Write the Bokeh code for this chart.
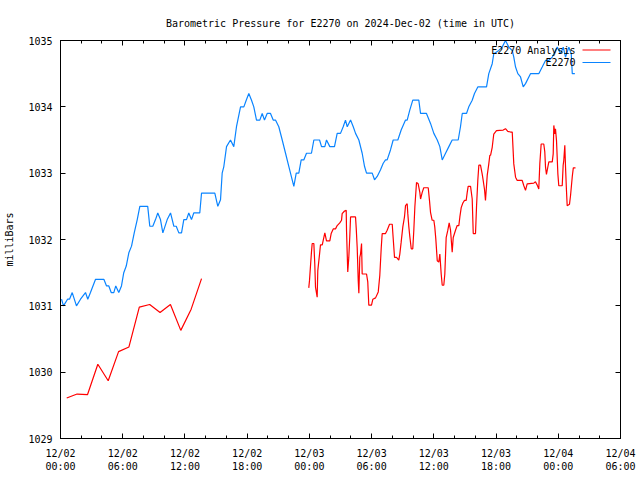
import math
from bokeh.plotting import figure
from bokeh.models import FixedTicker, LinearAxis, Range1d, Label, BoxAnnotation
from bokeh.embed import file_html
from bokeh.resources import INLINE

title_text = "Barometric Pressure for E2270 on 2024-Dec-02 (time in UTC)"
y_label = "milliBars"
series_names = ["E2270 Analysis", "E2270"]
series_colors = ["#ff0000", "#0a84ff"]

# x axis: hours since 2024-12-02 00:00 UTC
tick_hours = [0, 6, 12, 18, 24, 30, 36, 42, 48, 54]
tick_labels = ["12/02\n00:00", "12/02\n06:00", "12/02\n12:00", "12/02\n18:00",
               "12/03\n00:00", "12/03\n06:00", "12/03\n12:00", "12/03\n18:00",
               "12/04\n00:00", "12/04\n06:00"]
minor_hours = list(range(0, 55, 2))
y_ticks = [1029, 1030, 1031, 1032, 1033, 1034, 1035]

# observed E2270 (hours, mb)
obs_hours = [0.10, 0.29, 0.68, 0.87, 1.13, 1.54, 1.93, 2.41, 2.63, 2.89, 3.38, 4.18, 4.44, 4.66,
             4.89, 5.14, 5.33, 5.62, 5.88, 6.10, 6.34, 6.59, 6.85, 7.11, 7.40, 7.65, 8.41, 8.61,
             8.90, 9.16, 9.38, 9.64, 9.87, 10.29, 10.61, 10.93, 11.16, 11.41, 11.67, 11.89, 12.15,
             12.37, 12.63, 12.85, 13.43, 13.60, 14.88, 15.17, 15.43, 15.59, 15.75, 16.01, 16.39,
             16.71, 16.97, 17.36, 17.68, 17.91, 18.16, 18.42, 18.64, 18.90, 19.22, 19.45, 19.67,
             19.93, 20.25, 20.51, 20.73, 21.05, 21.38, 21.70, 22.02, 22.50, 22.73, 22.98, 23.21,
             23.46, 23.72, 24.20, 24.43, 24.98, 25.17, 25.49, 25.65, 25.97, 26.42, 26.68, 27.00,
             27.26, 27.48, 27.65, 27.97, 28.23, 28.45, 28.77, 29.09, 29.32, 29.51, 30.06, 30.28,
             30.54, 30.86, 31.12, 31.34, 31.50, 31.82, 32.08, 32.53, 32.85, 33.27, 33.43, 33.68,
             33.97, 34.55, 34.72, 35.29, 35.68, 36.00, 36.33, 36.58, 36.81, 37.13, 37.45, 37.77,
             38.35, 38.57, 38.74, 39.15, 39.37, 39.70, 39.92, 40.24, 41.08, 41.30, 41.63, 41.78,
             42.27, 42.59, 42.91, 43.23, 43.56, 43.71, 43.88, 44.10, 44.36, 44.62, 44.84, 45.32,
             46.12, 46.45, 46.77, 47.09, 47.42, 47.90, 48.22, 48.48, 48.70, 49.02, 49.25, 49.35,
             49.60]
obs_mb = [1031.1, 1031.0, 1031.1, 1031.1, 1031.2, 1031.0, 1031.1, 1031.2, 1031.1, 1031.2, 1031.4,
          1031.4, 1031.3, 1031.3, 1031.2, 1031.2, 1031.3, 1031.2, 1031.3, 1031.5, 1031.6, 1031.8,
          1031.9, 1032.1, 1032.3, 1032.5, 1032.5, 1032.2, 1032.2, 1032.3, 1032.4, 1032.3, 1032.1,
          1032.3, 1032.4, 1032.2, 1032.2, 1032.1, 1032.1, 1032.3, 1032.3, 1032.4, 1032.3, 1032.4,
          1032.4, 1032.7, 1032.7, 1032.5, 1032.6, 1033.0, 1033.1, 1033.4, 1033.5, 1033.4, 1033.7,
          1034.0, 1034.0, 1034.1, 1034.2, 1034.1, 1034.0, 1033.8, 1033.8, 1033.9, 1033.8, 1033.9,
          1033.9, 1033.8, 1033.8, 1033.7, 1033.5, 1033.3, 1033.1, 1032.8, 1033.0, 1033.0, 1033.2,
          1033.2, 1033.3, 1033.3, 1033.5, 1033.5, 1033.4, 1033.4, 1033.5, 1033.4, 1033.4, 1033.6,
          1033.6, 1033.7, 1033.8, 1033.7, 1033.8, 1033.7, 1033.6, 1033.5, 1033.3, 1033.1, 1033.0,
          1033.0, 1032.9, 1032.95, 1033.05, 1033.15, 1033.2, 1033.2, 1033.35, 1033.5, 1033.5,
          1033.65, 1033.8, 1033.8, 1033.95, 1034.1, 1034.1, 1033.9, 1033.9, 1033.75, 1033.6,
          1033.5, 1033.4, 1033.2, 1033.3, 1033.4, 1033.5, 1033.5, 1033.7, 1033.9, 1033.9, 1034.0,
          1034.1, 1034.2, 1034.3, 1034.3, 1034.5, 1034.65, 1034.8, 1034.85, 1034.9, 1035.0,
          1034.9, 1034.85, 1034.75, 1034.6, 1034.5, 1034.45, 1034.3, 1034.35, 1034.5, 1034.5,
          1034.6, 1034.7, 1034.7, 1034.75, 1034.9, 1034.8, 1034.9, 1034.75, 1034.9, 1034.8,
          1034.5, 1034.5]

# analysis, first run (hours, mb)
ana1_hours = [0.6, 1.6, 2.6, 3.6, 4.6, 5.6, 6.6, 7.6, 8.6, 9.6, 10.6, 11.6, 12.6, 13.6]
ana1_mb = [1029.61, 1029.67, 1029.66, 1030.12, 1029.87, 1030.31, 1030.38, 1030.98, 1031.02,
           1030.90, 1031.02, 1030.63, 1030.95, 1031.41]

# analysis, second run (hours, mb)
ana2_hours = [23.94, 24.01, 24.11, 24.20, 24.27, 24.43, 24.52, 24.59, 24.75, 24.81, 24.98, 25.07,
              25.24, 25.39, 25.49, 25.65, 25.97, 26.10, 26.30, 26.52, 26.68, 26.93, 27.10, 27.16,
              27.39, 27.55, 27.58, 27.70, 27.80, 27.90, 27.97, 28.45, 28.52, 28.61, 28.71, 28.77,
              28.86, 28.93, 29.03, 29.09, 29.51, 29.63, 29.73, 29.99, 30.12, 30.38, 30.64, 30.79,
              30.93, 31.02, 31.34, 31.50, 31.73, 31.99, 32.04, 32.21, 32.40, 32.62, 32.72, 32.85,
              33.01, 33.17, 33.27, 33.43, 33.49, 33.59, 33.68, 33.82, 33.97, 34.07, 34.17, 34.33,
              34.49, 34.65, 34.72, 34.88, 35.03, 35.46, 35.58, 35.68, 35.84, 36.00, 36.09, 36.19,
              36.33, 36.48, 36.58, 36.71, 36.81, 36.96, 37.06, 37.19, 37.35, 37.48, 37.61, 37.77,
              37.87, 38.09, 38.25, 38.41, 38.51, 38.64, 38.80, 38.96, 39.12, 39.22, 39.31, 39.54,
              39.70, 39.80, 40.02, 40.12, 40.24, 40.34, 40.50, 40.66, 40.76, 40.89, 40.98, 41.15,
              41.30, 41.40, 41.47, 41.63, 41.78, 42.04, 42.69, 42.91, 43.13, 43.39, 43.56, 43.71,
              43.88, 44.04, 44.52, 44.68, 44.84, 45.00, 45.64, 45.80, 45.97, 46.12, 46.22, 46.35,
              46.60, 46.70, 46.77, 46.86, 46.99, 47.09, 47.42, 47.51, 47.57, 47.67, 47.73, 47.83,
              47.96, 48.05, 48.38, 48.47, 48.53, 48.63, 48.70, 48.79, 48.86, 49.08, 49.18, 49.35,
              49.45, 49.66]
ana2_mb = [1031.27, 1031.38, 1031.61, 1031.81, 1031.94, 1031.94, 1031.63, 1031.28, 1031.13,
           1031.53, 1031.78, 1031.92, 1031.92, 1032.03, 1032.10, 1031.98, 1031.98, 1032.09,
           1032.16, 1032.16, 1032.21, 1032.25, 1032.29, 1032.39, 1032.43, 1032.44, 1032.14,
           1031.51, 1031.73, 1032.06, 1032.34, 1032.34, 1032.16, 1031.88, 1031.38, 1031.19,
           1031.73, 1031.78, 1031.94, 1031.48, 1031.48, 1031.36, 1031.01, 1031.01, 1031.10,
           1031.12, 1031.21, 1031.46, 1031.88, 1032.09, 1032.09, 1032.14, 1032.23, 1032.23,
           1032.11, 1031.73, 1031.73, 1031.69, 1031.78, 1031.96, 1032.19, 1032.34, 1032.51,
           1032.54, 1032.39, 1032.19, 1032.05, 1031.86, 1031.86, 1032.14, 1032.49, 1032.86,
           1032.84, 1032.71, 1032.61, 1032.71, 1032.78, 1032.78, 1032.59, 1032.41, 1032.29,
           1032.29, 1032.19, 1032.01, 1031.68, 1031.66, 1031.78, 1031.48, 1031.31, 1031.31,
           1031.48, 1032.03, 1032.14, 1032.25, 1032.14, 1031.81, 1032.03, 1032.14, 1032.21,
           1032.21, 1032.34, 1032.48, 1032.55, 1032.59, 1032.59, 1032.71, 1032.80, 1032.80,
           1032.61, 1032.09, 1032.09, 1032.51, 1032.89, 1033.12, 1033.12, 1032.99, 1032.89,
           1032.75, 1032.59, 1032.97, 1033.14, 1033.27, 1033.27, 1033.39, 1033.59, 1033.64,
           1033.65, 1033.67, 1033.63, 1033.62, 1033.62, 1033.14, 1032.94, 1032.89, 1032.89,
           1032.81, 1032.74, 1032.84, 1032.85, 1032.87, 1032.82, 1032.76, 1033.14, 1033.44,
           1033.44, 1033.32, 1033.09, 1032.98, 1033.09, 1033.17, 1033.17, 1033.29, 1033.72,
           1033.59, 1033.67, 1033.49, 1032.99, 1032.81, 1032.81, 1033.12, 1033.19, 1033.42,
           1033.09, 1032.74, 1032.51, 1032.53, 1032.66, 1032.95, 1033.08, 1033.08]

FONT = "DejaVu Sans Mono"
FS = "10px"

p = figure(width=640, height=480, x_range=Range1d(0, 54), y_range=Range1d(1029, 1035),
           output_backend="svg", toolbar_location=None,
           min_border_left=60, min_border_right=20, min_border_top=40, min_border_bottom=42)
p.grid.visible = False
p.outline_line_color = "black"
p.outline_line_width = 1
p.background_fill_color = "white"
p.border_fill_color = "white"

p.title.text = title_text
p.title.align = "center"
p.title.text_font = FONT
p.title.text_font_size = FS
p.title.text_font_style = "normal"
p.title.text_color = "black"
p.title.standoff = 24

def style_axis(ax, labels=True, standoff=6):
    ax.axis_line_color = "black"
    ax.major_tick_line_color = "black"
    ax.minor_tick_line_color = "black"
    ax.major_tick_in = 5
    ax.major_tick_out = 0
    ax.minor_tick_in = 3
    ax.minor_tick_out = 0
    ax.major_label_text_font = FONT
    ax.major_label_text_font_size = FS if labels else "0px"
    ax.major_label_text_color = "black"
    ax.major_label_standoff = standoff if labels else 0

x_ticker = FixedTicker(ticks=tick_hours, minor_ticks=minor_hours)
y_ticker = FixedTicker(ticks=y_ticks, minor_ticks=[])

p.xaxis.ticker = x_ticker
p.xaxis.major_label_overrides = dict(zip(tick_hours, tick_labels))
style_axis(p.xaxis[0], standoff=9)

p.yaxis.ticker = y_ticker
p.yaxis.axis_label = y_label
p.yaxis.axis_label_text_font = FONT
p.yaxis.axis_label_text_font_size = FS
p.yaxis.axis_label_text_font_style = "normal"
p.yaxis.axis_label_text_color = "black"
p.yaxis.axis_label_standoff = 10
style_axis(p.yaxis[0], standoff=8)

top = LinearAxis(ticker=x_ticker)
style_axis(top, labels=False)
top.major_label_overrides = {h: "" for h in tick_hours}
p.add_layout(top, "above")

right = LinearAxis(ticker=y_ticker)
style_axis(right, labels=False)
right.major_label_overrides = {v: "" for v in y_ticks}
p.add_layout(right, "right")

ana_hours = ana1_hours + [math.nan] + ana2_hours
ana_mb = ana1_mb + [math.nan] + ana2_mb
p.line(ana_hours, ana_mb, line_color=series_colors[0], line_width=1.2)
p.line(obs_hours, obs_mb, line_color=series_colors[1], line_width=1.2)

# key (text then sample line, top right); screen units are relative to the frame
for i, (name, col) in enumerate(zip(series_names, series_colors)):
    yy = 388.5 - 12.5 * i
    p.add_layout(Label(x=515, y=yy, x_units="screen", y_units="screen", text=name,
                       text_align="right", text_baseline="middle", text_font=FONT,
                       text_font_size=FS, text_color="black"))
    p.add_layout(BoxAnnotation(left=522, right=550, top=yy + 0.6, bottom=yy - 0.6,
                               left_units="screen", right_units="screen",
                               top_units="screen", bottom_units="screen",
                               fill_color=col, fill_alpha=1, line_color=None))

open("out.html", "w").write(file_html(p, INLINE))
